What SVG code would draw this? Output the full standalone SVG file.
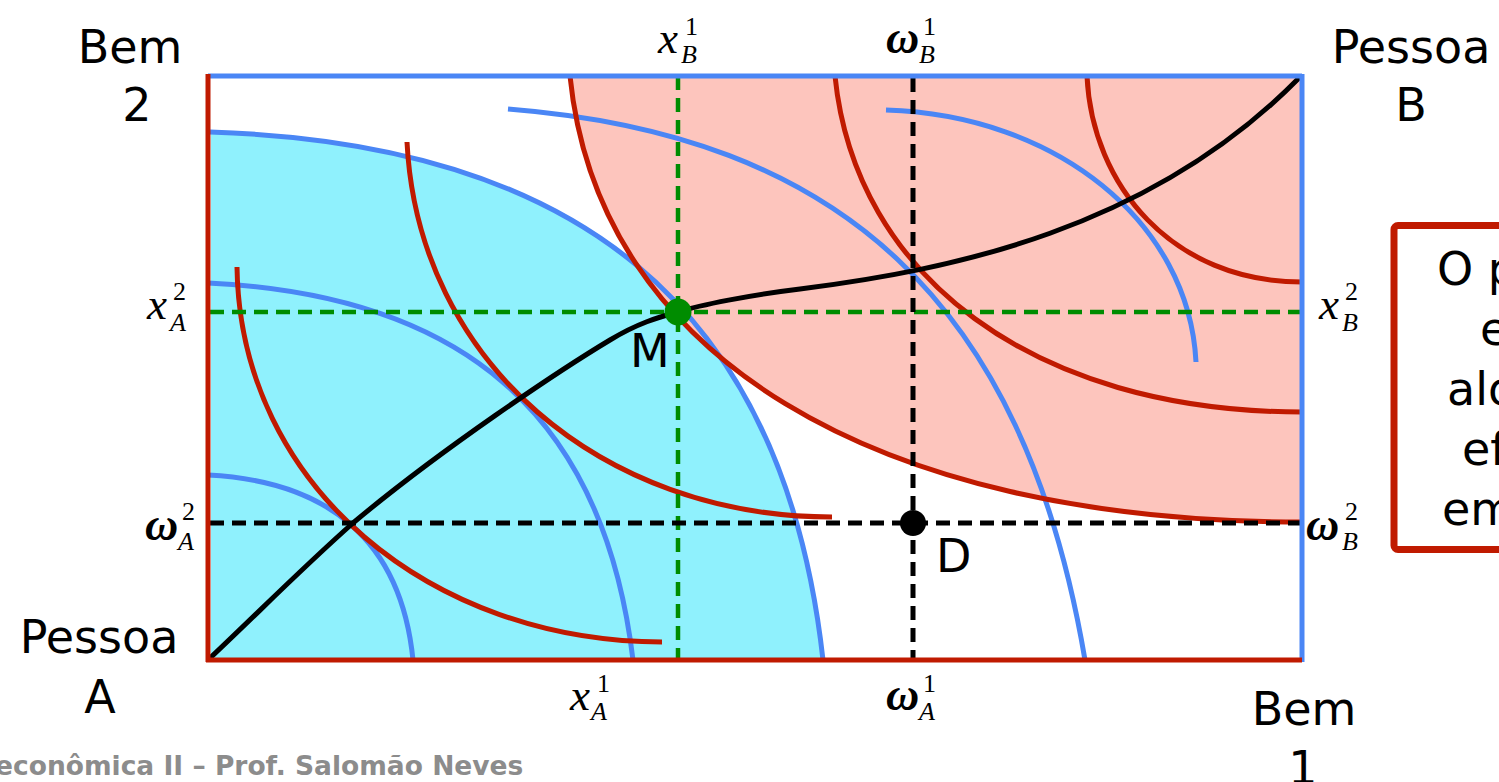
<svg xmlns="http://www.w3.org/2000/svg" width="1499" height="782" viewBox="0 0 1499 782">
<style>
.lab{font-family:"DejaVu Sans","Liberation Sans",sans-serif;font-size:46px;fill:#000}
.mi{font-family:"Liberation Serif","Times New Roman",serif;font-style:italic;font-size:45px;fill:#000}
.om{font-family:"Liberation Serif","Times New Roman",serif;font-style:italic;font-weight:bold;font-size:46px;fill:#000}
.sup{font-family:"Liberation Serif","Times New Roman",serif;font-size:26px;fill:#000}
.sub{font-family:"Liberation Serif","Times New Roman",serif;font-style:italic;font-size:26px;fill:#000}
.red{fill:none;stroke:#C01A00;stroke-width:5}
.blue{fill:none;stroke:#4A86F5;stroke-width:5}
.gd{fill:none;stroke:#008C00;stroke-width:4.5;stroke-dasharray:14 8}
.bd{fill:none;stroke:#000;stroke-width:5;stroke-dasharray:14 8}
.foot{font-family:"DejaVu Sans","Liberation Sans",sans-serif;font-weight:bold;font-size:26.5px;fill:#8C8C8C}
</style>
<rect width="1499" height="782" fill="#fff"/>
<g id="regions">
<path d="M211,132 C570,143 783,300 823,660 L211,660 Z" fill="#8FF1FD"/>
<path d="M570,76 C598,355 872,522 1302,522 L1302,76 Z" fill="#FDC5BD"/>
</g>
<g id="connectors">
<path class="blue" d="M210,132 C570,143 783,300 823,660"/>
<path class="blue" d="M208,283 C458,295 603,410 633,660"/>
<path class="blue" d="M208,475 C328,481 401,540 413,660"/>
<path class="blue" d="M508,109 C838,135 1024,300 1085,660"/>
<path class="blue" d="M886,110 C1056,115 1189,222 1196,362"/>
<path class="red" d="M570,76 C598,355 872,522 1302,522"/>
<path class="red" d="M835,76 C855,275 1032,412 1302,412"/>
<path class="red" d="M1087,76 C1092,185 1172,282 1302,282"/>
<path class="red" d="M407,142 C418,362 602,517 832,517"/>
<path class="red" d="M237,267 C240,487 432,642 662,642"/>
<line class="gd" x1="678" y1="76" x2="678" y2="660"/>
<line class="gd" x1="210" y1="312" x2="1302" y2="312"/>
<line class="bd" x1="913" y1="78" x2="913" y2="660"/>
<line class="bd" x1="210" y1="523" x2="1302" y2="523"/>
<path fill="none" stroke="#000" stroke-width="5" d="M208,660 C260,611 300,570 353,523 C440,450 560,370 610,340 C640,322 660,317 678,312 C700,305 750,295 800,289 C950,270 1150,230 1300,77"/>
</g>
<g id="box">
<line x1="208" y1="76" x2="1302" y2="76" stroke="#4A86F5" stroke-width="5"/>
<line x1="1302" y1="74" x2="1302" y2="662" stroke="#4A86F5" stroke-width="5"/>
<line x1="208" y1="74" x2="208" y2="662" stroke="#C01A00" stroke-width="5"/>
<line x1="206" y1="660" x2="1302" y2="660" stroke="#C01A00" stroke-width="5"/>
</g>
<g id="point-M">
<circle cx="678" cy="312" r="13.5" fill="#008C00"/>
<text class="lab" x="630" y="367">M</text>
</g>
<g id="point-D">
<circle cx="913" cy="523" r="13" fill="#000"/>
<text class="lab" x="936" y="572">D</text>
</g>
<g id="corner-labels">
<text class="lab" x="130" y="63" text-anchor="middle">Bem</text>
<text class="lab" x="137" y="121" text-anchor="middle">2</text>
<text class="lab" x="1411" y="63" text-anchor="middle">Pessoa</text>
<text class="lab" x="1411" y="121" text-anchor="middle">B</text>
<text class="lab" x="99" y="653" text-anchor="middle">Pessoa</text>
<text class="lab" x="100" y="713" text-anchor="middle">A</text>
<text class="lab" x="1304" y="725" text-anchor="middle">Bem</text>
<text class="lab" x="1303" y="784" text-anchor="middle">1</text>
</g>
<g id="axis-labels">
<text class="mi" x="658" y="53">x</text><text class="sup" x="685" y="35">1</text><text class="sub" x="681" y="63">B</text>
<text class="om" x="886" y="53">ω</text><text class="sup" x="923" y="35">1</text><text class="sub" x="919" y="63">B</text>
<text class="mi" x="147" y="319">x</text><text class="sup" x="173" y="300">2</text><text class="sub" x="170" y="331">A</text>
<text class="om" x="145" y="540">ω</text><text class="sup" x="182" y="520">2</text><text class="sub" x="178" y="550">A</text>
<text class="mi" x="1319" y="319">x</text><text class="sup" x="1345" y="300">2</text><text class="sub" x="1342" y="331">B</text>
<text class="om" x="1306" y="540">ω</text><text class="sup" x="1345" y="520">2</text><text class="sub" x="1342" y="550">B</text>
<text class="mi" x="570" y="710">x</text><text class="sup" x="597" y="692">1</text><text class="sub" x="591" y="720">A</text>
<text class="om" x="886" y="710">ω</text><text class="sup" x="923" y="692">1</text><text class="sub" x="919" y="720">A</text>
</g>
<g id="note">
<rect x="1394" y="225.5" width="200" height="324" rx="4" fill="#fff" stroke="#C01A00" stroke-width="7"/>
<text class="lab" x="1437" y="285">O p</text>
<text class="lab" x="1480" y="345">e</text>
<text class="lab" x="1447" y="405">alo</text>
<text class="lab" x="1462" y="465">ef</text>
<text class="lab" x="1442" y="525">em</text>
</g>
<text class="foot" x="-5" y="775">econômica II – Prof. Salomão Neves</text>
</svg>
